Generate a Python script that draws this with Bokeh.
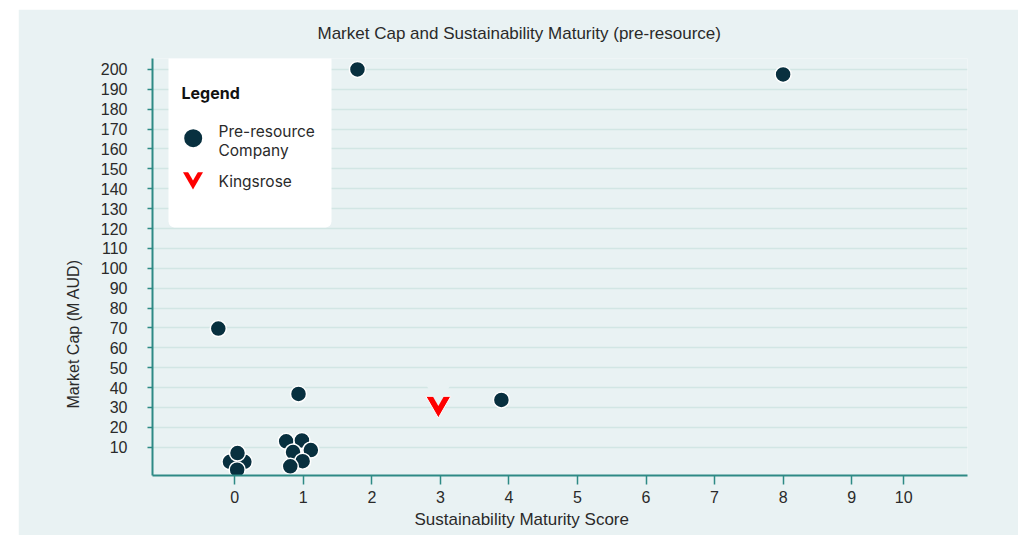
import math
from bokeh.plotting import figure
from bokeh.models import Range1d, FixedTicker, Label, BoxAnnotation, Spacer, Title
from bokeh.layouts import row, column
from bokeh.embed import file_html
from bokeh.resources import INLINE

# ---------------- data ----------------
TITLE = "Market Cap and Sustainability Maturity (pre-resource)"
X_LABEL = "Sustainability Maturity Score"
Y_LABEL = "Market Cap (M AUD)"

PRE_X = [1.79, 8.0, -0.24, 0.93, 3.89,
         -0.07, 0.14, 0.04, 0.035,
         0.75, 0.98, 1.11, 0.85, 0.99, 0.81]
PRE_Y = [200.0, 197.5, 69.7, 36.8, 33.8,
         2.7, 2.7, 7.1, -1.3,
         13.0, 13.4, 8.6, 7.6, 3.0, 0.4]

KINGSROSE_X = [2.97]
KINGSROSE_Y = [32.0]

X_TICK_LABELS = ["0", "1", "2", "3", "4", "5", "6", "7", "8", "9", "10"]
X_TICK_POS = [0, 1, 2, 3, 4, 5, 6, 7, 8, 9, 9.76]
Y_TICKS = [10, 20, 30, 40, 50, 60, 70, 80, 90, 100,
           110, 120, 130, 140, 150, 160, 170, 180, 190, 200]

LEGEND_TITLE = "Legend"
LEGEND_PRE = ["Pre-resource", "Company"]
LEGEND_KR = "Kingsrose"

# ---------------- style ----------------
BG = "#e9f2f3"
NAVY = "#08303f"
RED = "#fe0000"
TEAL = "#2e8a85"
GRID = "#d2e6e4"
TXT = "#2a2a2a"
FONT = "Liberation Sans"
LFONT = "Inter"

FW, FH = 815, 417

p = figure(width=1000, height=526,
           x_range=Range1d(-1.2, 10.69), y_range=Range1d(-4.2, 205.5),
           output_backend="svg", toolbar_location=None,
           min_border_left=134, min_border_right=51,
           min_border_top=49, min_border_bottom=60,
           background_fill_color=BG, border_fill_color=BG)
p.outline_line_color = None
p.extra_x_ranges = {"px": Range1d(0, FW)}
p.extra_y_ranges = {"px": Range1d(0, FH)}

# title and axis titles
p.title.text = TITLE
p.title.align = "left"
p.title.vertical_align = "top"
p.title.offset = 165
p.title.standoff = 28
p.title.text_font = FONT
p.title.text_font_size = "17px"
p.title.text_font_style = "normal"
p.title.text_color = TXT

p.add_layout(Title(text=X_LABEL, align="left", offset=262, standoff=5,
                   text_font=FONT, text_font_size="17px", text_font_style="normal",
                   text_color=TXT), "below")
p.add_layout(Title(text=Y_LABEL, align="left", offset=67, standoff=32,
                   text_font=FONT, text_font_size="16px", text_font_style="normal",
                   text_color=TXT), "left")

# axes
p.xaxis.ticker = FixedTicker(ticks=X_TICK_POS)
p.xaxis.major_label_overrides = {pos: lab for pos, lab in zip(X_TICK_POS, X_TICK_LABELS)}
p.yaxis.ticker = FixedTicker(ticks=Y_TICKS)
for ax in (p.xaxis[0], p.yaxis[0]):
    ax.axis_line_color = TEAL
    ax.axis_line_width = 2
    ax.major_tick_line_color = TEAL
    ax.major_tick_line_width = 1.5
    ax.major_tick_in = 0
    ax.minor_tick_line_color = None
    ax.major_label_text_font = FONT
    ax.major_label_text_font_size = "16px"
    ax.major_label_text_color = TXT
p.xaxis.major_tick_out = 9
p.xaxis.major_label_standoff = 6
p.yaxis.major_tick_out = 5
p.yaxis.major_label_standoff = 20

p.xgrid.visible = False
p.ygrid.ticker = FixedTicker(ticks=Y_TICKS)
p.ygrid.grid_line_color = GRID
p.ygrid.grid_line_width = 1.5

# data marks
p.scatter(PRE_X, PRE_Y, size=16, fill_color=NAVY, line_color="white", line_width=1.5)
NOTCH = 6.0  # chevron notch offset (style, in y units)
p.scatter(KINGSROSE_X, KINGSROSE_Y, marker="inverted_triangle", size=25,
          fill_color=RED, line_color="white", line_width=1)
p.scatter(KINGSROSE_X, [v + NOTCH for v in KINGSROSE_Y], marker="inverted_triangle", size=25,
          fill_color=BG, line_color=None)

# legend box
p.add_layout(BoxAnnotation(left=16, right=179, bottom=248, top=422,
                           x_range_name="px", y_range_name="px",
                           fill_color="white", fill_alpha=1.0, line_color=None,
                           border_radius=6))
p.scatter([40.7], [337.3], size=18, fill_color=NAVY, line_color=None,
          x_range_name="px", y_range_name="px", level="overlay")
p.scatter([40.5], [297.5], marker="inverted_triangle", size=20, fill_color=RED,
          line_color=None, x_range_name="px", y_range_name="px", level="overlay")
p.scatter([40.5], [306.5], marker="inverted_triangle", size=20, fill_color="white",
          line_color=None, x_range_name="px", y_range_name="px", level="overlay")
p.add_layout(Label(x=29, y=382.3, x_range_name="px", y_range_name="px", text=LEGEND_TITLE,
                   text_align="left", text_baseline="middle", text_font=LFONT,
                   text_font_size="16px", text_font_style="bold", text_color="#111111",
                   level="overlay"))
for txt, yy in zip(LEGEND_PRE + [LEGEND_KR], [344.3, 325.0, 294.0]):
    p.add_layout(Label(x=66, y=yy, x_range_name="px", y_range_name="px", text=txt,
                       text_align="left", text_baseline="middle", text_font=LFONT,
                       text_font_size="15.5px", text_color=TXT, level="overlay"))

layout = column(Spacer(width=1018, height=9), row(Spacer(width=18, height=526), p))
open("out.html", "w").write(file_html(layout, INLINE))
